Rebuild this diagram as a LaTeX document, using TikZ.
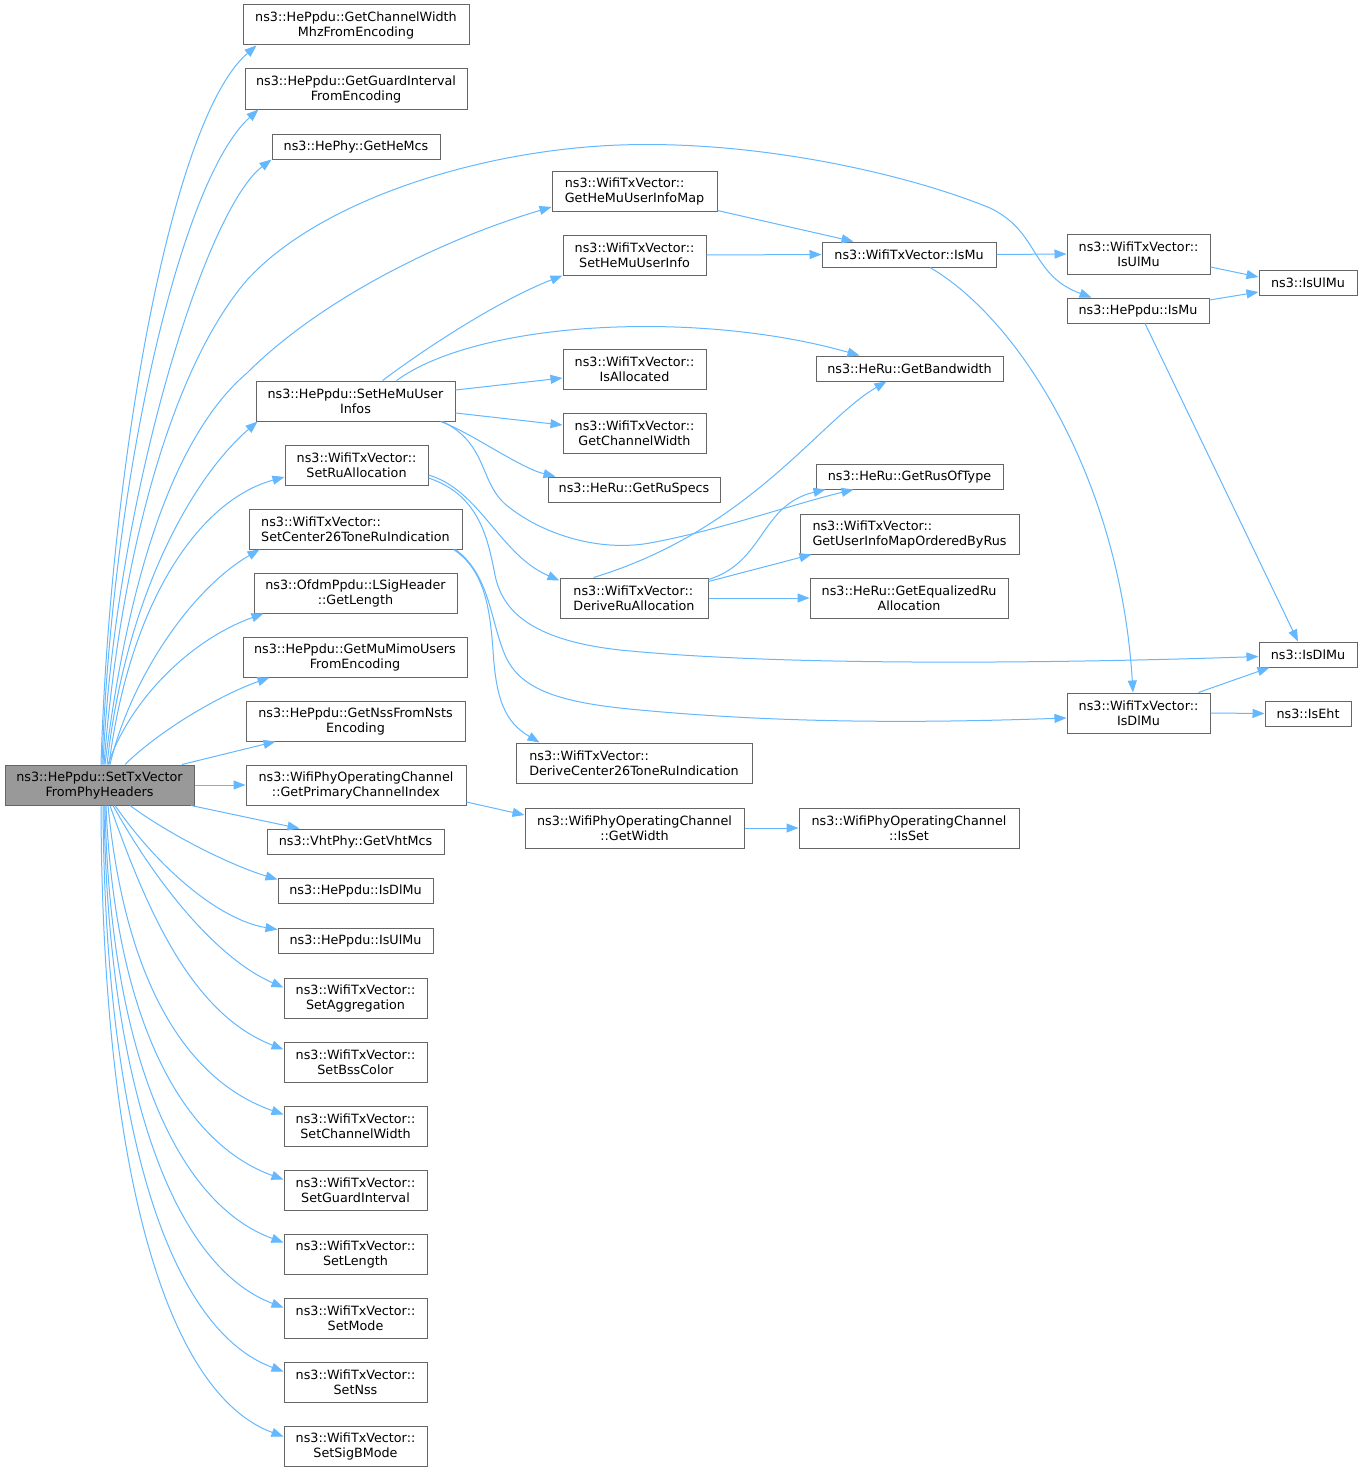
\documentclass[tikz,border=0pt]{standalone}
\usepackage{fontspec}
\newfontfamily\dvs{DejaVu Sans}
\usetikzlibrary{arrows.meta}
\definecolor{edgeblue}{HTML}{63B8FF}
\definecolor{boxgray}{HTML}{666666}
\definecolor{mainfill}{HTML}{999999}
\tikzset{
  box/.style={draw=boxgray, line width=1pt, fill=white, inner sep=0pt, align=center,
    font=\dvs\fontsize{12.75pt}{15pt}\selectfont},
  lbox/.style={box, align=left},
  mainbox/.style={box, fill=mainfill},
  edge/.style={draw=edgeblue, line width=1pt, -{Triangle[length=12pt,width=9pt]}, fill=none},
}
\begin{document}
\begin{tikzpicture}[x=1pt, y=-1pt]
\fill[white] (0,0) rectangle (1363,1472);
\useasboundingbox (0,0) rectangle (1363,1472);

% main
\node[mainbox, minimum width=189pt, minimum height=40pt] (m) at (99.5,785) {ns3::HePpdu::SetTxVector\\FromPhyHeaders};

% column 2
\node[box, minimum width=226pt, minimum height=40pt] (cwm) at (356,25) {ns3::HePpdu::GetChannelWidth\\MhzFromEncoding};
\node[box, minimum width=222pt, minimum height=40pt] (gi) at (356,89) {ns3::HePpdu::GetGuardInterval\\FromEncoding};
\node[box, minimum width=168pt, minimum height=25pt] (hemcs) at (356,146.5) {ns3::HePhy::GetHeMcs};
\node[box, minimum width=199pt, minimum height=40pt] (shmis) at (355.5,401) {ns3::HePpdu::SetHeMuUser\\Infos};
\node[box, minimum width=143pt, minimum height=40pt] (sra) at (356.5,465) {ns3::WifiTxVector::\\SetRuAllocation};
\node[lbox, minimum width=213pt, minimum height=40pt] (sc26) at (355.5,529) {ns3::WifiTxVector::\\SetCenter26ToneRuIndication};
\node[box, minimum width=203pt, minimum height=40pt] (lsig) at (355.5,593) {ns3::OfdmPpdu::LSigHeader\\::GetLength};
\node[box, minimum width=224pt, minimum height=40pt] (mumimo) at (355,657) {ns3::HePpdu::GetMuMimoUsers\\FromEncoding};
\node[box, minimum width=219pt, minimum height=40pt] (nss) at (355.5,721) {ns3::HePpdu::GetNssFromNsts\\Encoding};
\node[box, minimum width=220pt, minimum height=40pt] (pci) at (356,785) {ns3::WifiPhyOperatingChannel\\::GetPrimaryChannelIndex};
\node[box, minimum width=177pt, minimum height=25pt] (vht) at (355.5,841.5) {ns3::VhtPhy::GetVhtMcs};
\node[box, minimum width=155pt, minimum height=25pt] (hdl) at (355.5,890.5) {ns3::HePpdu::IsDlMu};
\node[box, minimum width=155pt, minimum height=25pt] (hul) at (355.5,940.5) {ns3::HePpdu::IsUlMu};
\node[box, minimum width=143pt, minimum height=40pt] (sagg) at (355.5,998) {ns3::WifiTxVector::\\SetAggregation};
\node[box, minimum width=143pt, minimum height=40pt] (sbss) at (355.5,1062) {ns3::WifiTxVector::\\SetBssColor};
\node[box, minimum width=143pt, minimum height=40pt] (scw) at (355.5,1126) {ns3::WifiTxVector::\\SetChannelWidth};
\node[box, minimum width=143pt, minimum height=40pt] (sgi) at (355.5,1190) {ns3::WifiTxVector::\\SetGuardInterval};
\node[box, minimum width=143pt, minimum height=40pt] (slen) at (355.5,1254) {ns3::WifiTxVector::\\SetLength};
\node[box, minimum width=143pt, minimum height=40pt] (smode) at (355.5,1318) {ns3::WifiTxVector::\\SetMode};
\node[box, minimum width=143pt, minimum height=40pt] (snss) at (355.5,1382) {ns3::WifiTxVector::\\SetNss};
\node[box, minimum width=143pt, minimum height=40pt] (ssig) at (355.5,1446) {ns3::WifiTxVector::\\SetSigBMode};

% column 3
\node[lbox, minimum width=165pt, minimum height=40pt] (gmap) at (634.5,191) {ns3::WifiTxVector::\\GetHeMuUserInfoMap};
\node[box, minimum width=143pt, minimum height=40pt] (shmi) at (634.5,255) {ns3::WifiTxVector::\\SetHeMuUserInfo};
\node[box, minimum width=143pt, minimum height=40pt] (isal) at (634.5,369) {ns3::WifiTxVector::\\IsAllocated};
\node[box, minimum width=143pt, minimum height=40pt] (gcw) at (634.5,433) {ns3::WifiTxVector::\\GetChannelWidth};
\node[box, minimum width=172pt, minimum height=25pt] (rusp) at (634,489.5) {ns3::HeRu::GetRuSpecs};
\node[lbox, minimum width=148pt, minimum height=40pt] (dra) at (634,598) {ns3::WifiTxVector::\\DeriveRuAllocation};
\node[lbox, minimum width=236pt, minimum height=40pt] (dc26) at (634,763) {ns3::WifiTxVector::\\DeriveCenter26ToneRuIndication};
\node[box, minimum width=219pt, minimum height=40pt] (gw) at (634.5,828) {ns3::WifiPhyOperatingChannel\\::GetWidth};

% column 4
\node[box, minimum width=174pt, minimum height=25pt] (ismu) at (909,254.5) {ns3::WifiTxVector::IsMu};
\node[box, minimum width=187pt, minimum height=25pt] (bw) at (909.5,368.5) {ns3::HeRu::GetBandwidth};
\node[box, minimum width=187pt, minimum height=25pt] (rot) at (909.5,476.5) {ns3::HeRu::GetRusOfType};
\node[lbox, minimum width=219pt, minimum height=40pt] (uimo) at (909.5,534) {ns3::WifiTxVector::\\GetUserInfoMapOrderedByRus};
\node[box, minimum width=198pt, minimum height=40pt] (eqra) at (909,598) {ns3::HeRu::GetEqualizedRu\\Allocation};
\node[box, minimum width=220pt, minimum height=40pt] (isset) at (909,828) {ns3::WifiPhyOperatingChannel\\::IsSet};

% column 5
\node[box, minimum width=143pt, minimum height=40pt] (wulmu) at (1138.5,254) {ns3::WifiTxVector::\\IsUlMu};
\node[box, minimum width=142pt, minimum height=25pt] (hismu) at (1138,310.5) {ns3::HePpdu::IsMu};
\node[box, minimum width=143pt, minimum height=40pt] (wdlmu) at (1138.5,713) {ns3::WifiTxVector::\\IsDlMu};

% column 6
\node[box, minimum width=98pt, minimum height=25pt] (iulmu) at (1308,282.5) {ns3::IsUlMu};
\node[box, minimum width=98pt, minimum height=25pt] (idlmu) at (1308,654.5) {ns3::IsDlMu};
\node[box, minimum width=86pt, minimum height=25pt] (eht) at (1308,713.5) {ns3::IsEht};

% edges from main, upward
\draw[edge] ([xshift=1.5pt]m.north) .. controls (110,470) and (170,120) .. ([xshift=14pt]cwm.south west);
\draw[edge] ([xshift=2.5pt]m.north) .. controls (112,480) and (180,180) .. ([xshift=14pt]gi.south west);
\draw[edge] ([xshift=3.5pt]m.north) .. controls (115,500) and (205,210) .. (hemcs.south west);
\draw[edge] ([xshift=4.5pt]m.north) .. controls (120,560) and (170,370) .. (247,280)
  .. controls (320,200) and (480,150) .. (620,145)
  .. controls (760,140) and (910,175) .. (990,208)
  .. controls (1040,232) and (1030,275) .. ([xshift=25pt]hismu.north west);
\draw[edge] ([xshift=5.5pt]m.north) .. controls (130,560) and (180,430) .. (247,373)
  .. controls (320,300) and (440,240) .. ([yshift=-16pt]gmap.west);
\draw[edge] ([xshift=7.5pt]m.north) .. controls (125,600) and (190,480) .. ([xshift=2pt]shmis.south west);
\draw[edge] ([xshift=9.5pt]m.north) .. controls (130,600) and (200,500) .. ([yshift=-12pt]sra.west);
\draw[edge] ([xshift=10.5pt]m.north) .. controls (130,680) and (190,590) .. ([xshift=11pt]sc26.south west);
\draw[edge] ([xshift=8.5pt]m.north) .. controls (130,700) and (190,640) .. ([xshift=10pt]lsig.south west);
\draw[edge] ([xshift=25.5pt]m.north) .. controls (160,730) and (220,695) .. ([xshift=27pt]mumimo.south west);
\draw[edge] ([xshift=82.5pt]m.north) -- ([xshift=30pt]nss.south west);
\draw[edge] (m.east) -- (pci.west);
% edges from main, downward
\draw[edge] ([xshift=91.5pt]m.south) -- ([xshift=33pt]vht.north west);
\draw[edge] ([xshift=30.5pt]m.south) .. controls (170,835) and (230,865) .. ([yshift=-2pt]hdl.north west);
\draw[edge] ([xshift=15.5pt]m.south) .. controls (160,870) and (220,920) .. ([yshift=-2pt]hul.north west);
\draw[edge] ([xshift=13.5pt]m.south) .. controls (160,890) and (220,960) .. ([yshift=-10pt]sagg.north west);
\draw[edge] ([xshift=10.5pt]m.south) .. controls (150,920) and (195,1015) .. ([yshift=-8pt]sbss.north west);
\draw[edge] ([xshift=8.5pt]m.south) .. controls (125,980) and (185,1080) .. ([yshift=-9pt]scw.north west);
\draw[edge] ([xshift=6.5pt]m.south) .. controls (115,1020) and (182,1143) .. ([yshift=-10pt]sgi.north west);
\draw[edge] ([xshift=5.5pt]m.south) .. controls (110,1060) and (180,1205) .. ([yshift=-9pt]slen.north west);
\draw[edge] ([xshift=4.5pt]m.south) .. controls (108,1100) and (178,1268) .. ([yshift=-10pt]smode.north west);
\draw[edge] ([xshift=3.5pt]m.south) .. controls (105,1150) and (176,1332) .. ([yshift=-10pt]snss.north west);
\draw[edge] ([xshift=1.5pt]m.south) .. controls (102,1200) and (175,1397) .. ([yshift=-11pt]ssig.north west);

% SetHeMuUserInfos
\draw[edge] ([xshift=127pt]shmis.north west) .. controls (430,345) and (500,300) .. (shmi.south west);
\draw[edge] ([xshift=141pt]shmis.north west) .. controls (480,320) and (700,310) .. ([xshift=44pt]bw.north west);
\draw[edge] ([yshift=11pt]shmis.east) -- ([yshift=-9pt]isal.west);
\draw[edge] ([yshift=-12pt]shmis.east) -- ([yshift=8pt]gcw.west);
\draw[edge] ([xshift=-15pt]shmis.south east) .. controls (470,432) and (520,468) .. ([xshift=8pt]rusp.north west);
\draw[edge] ([xshift=-13pt]shmis.south east) .. controls (490,445) and (478,485) .. (510,508)
  .. controls (545,535) and (600,552) .. (650,543)
  .. controls (720,530) and (790,505) .. ([xshift=38pt]rot.south west);

% SetRuAllocation
\draw[edge] ([yshift=-10pt]sra.east) .. controls (480,490) and (500,555) .. ([yshift=-3pt]dra.north west);
\draw[edge] ([yshift=-13pt]sra.east) .. controls (480,495) and (488,540) .. (495,575)
  .. controls (502,610) and (530,640) .. (620,650)
  .. controls (800,668) and (1100,662) .. ([yshift=-2pt]idlmu.west);

% SetCenter26ToneRuIndication
\draw[edge] ([xshift=-9pt]sc26.south east) .. controls (485,570) and (490,610) .. (493,650)
  .. controls (496,700) and (505,722) .. ([xshift=24pt]dc26.north west);
\draw[edge] ([xshift=-7pt]sc26.south east) .. controls (490,575) and (490,620) .. (505,655)
  .. controls (520,690) and (560,703) .. (640,710)
  .. controls (800,725) and (950,722) .. ([yshift=-5pt]wdlmu.west);

% DeriveRuAllocation
\draw[edge] ([xshift=34pt]dra.north west) .. controls (750,530) and (820,420) .. ([xshift=71pt]bw.south west);
\draw[edge] ([yshift=-2pt]dra.north east) .. controls (765,562) and (760,505) .. ([xshift=10pt]rot.south west);
\draw[edge] ([yshift=-4pt]dra.north east) -- ([xshift=12pt]uimo.south west);
\draw[edge] (dra.east) -- (eqra.west);

% column 3 -> 4
\draw[edge] ([yshift=1pt]gmap.south east) -- ([xshift=32pt]ismu.north west);
\draw[edge] (shmi.east) -- (ismu.west);
\draw[edge] ([yshift=-17pt]pci.east) -- ([yshift=13pt]gw.west);
\draw[edge] (gw.east) -- (isset.west);

% IsMu
\draw[edge] (ismu.east) -- (wulmu.west);
\draw[edge] ([xshift=21pt]ismu.south) .. controls (1020,320) and (1120,480) .. ([xshift=-5.5pt]wdlmu.north);

% column 5 -> 6
\draw[edge] ([yshift=-13pt]wulmu.east) -- ([yshift=5.5pt]iulmu.west);
\draw[edge] ([yshift=10.5pt]hismu.east) -- ([yshift=-9.5pt]iulmu.west);
\draw[edge] ([xshift=7pt]hismu.south) -- ([xshift=-10pt]idlmu.north);
\draw[edge] ([xshift=-12pt]wdlmu.north east) -- ([xshift=11pt]idlmu.south west);
\draw[edge] (wdlmu.east) -- (eht.west);
\end{tikzpicture}
\end{document}
